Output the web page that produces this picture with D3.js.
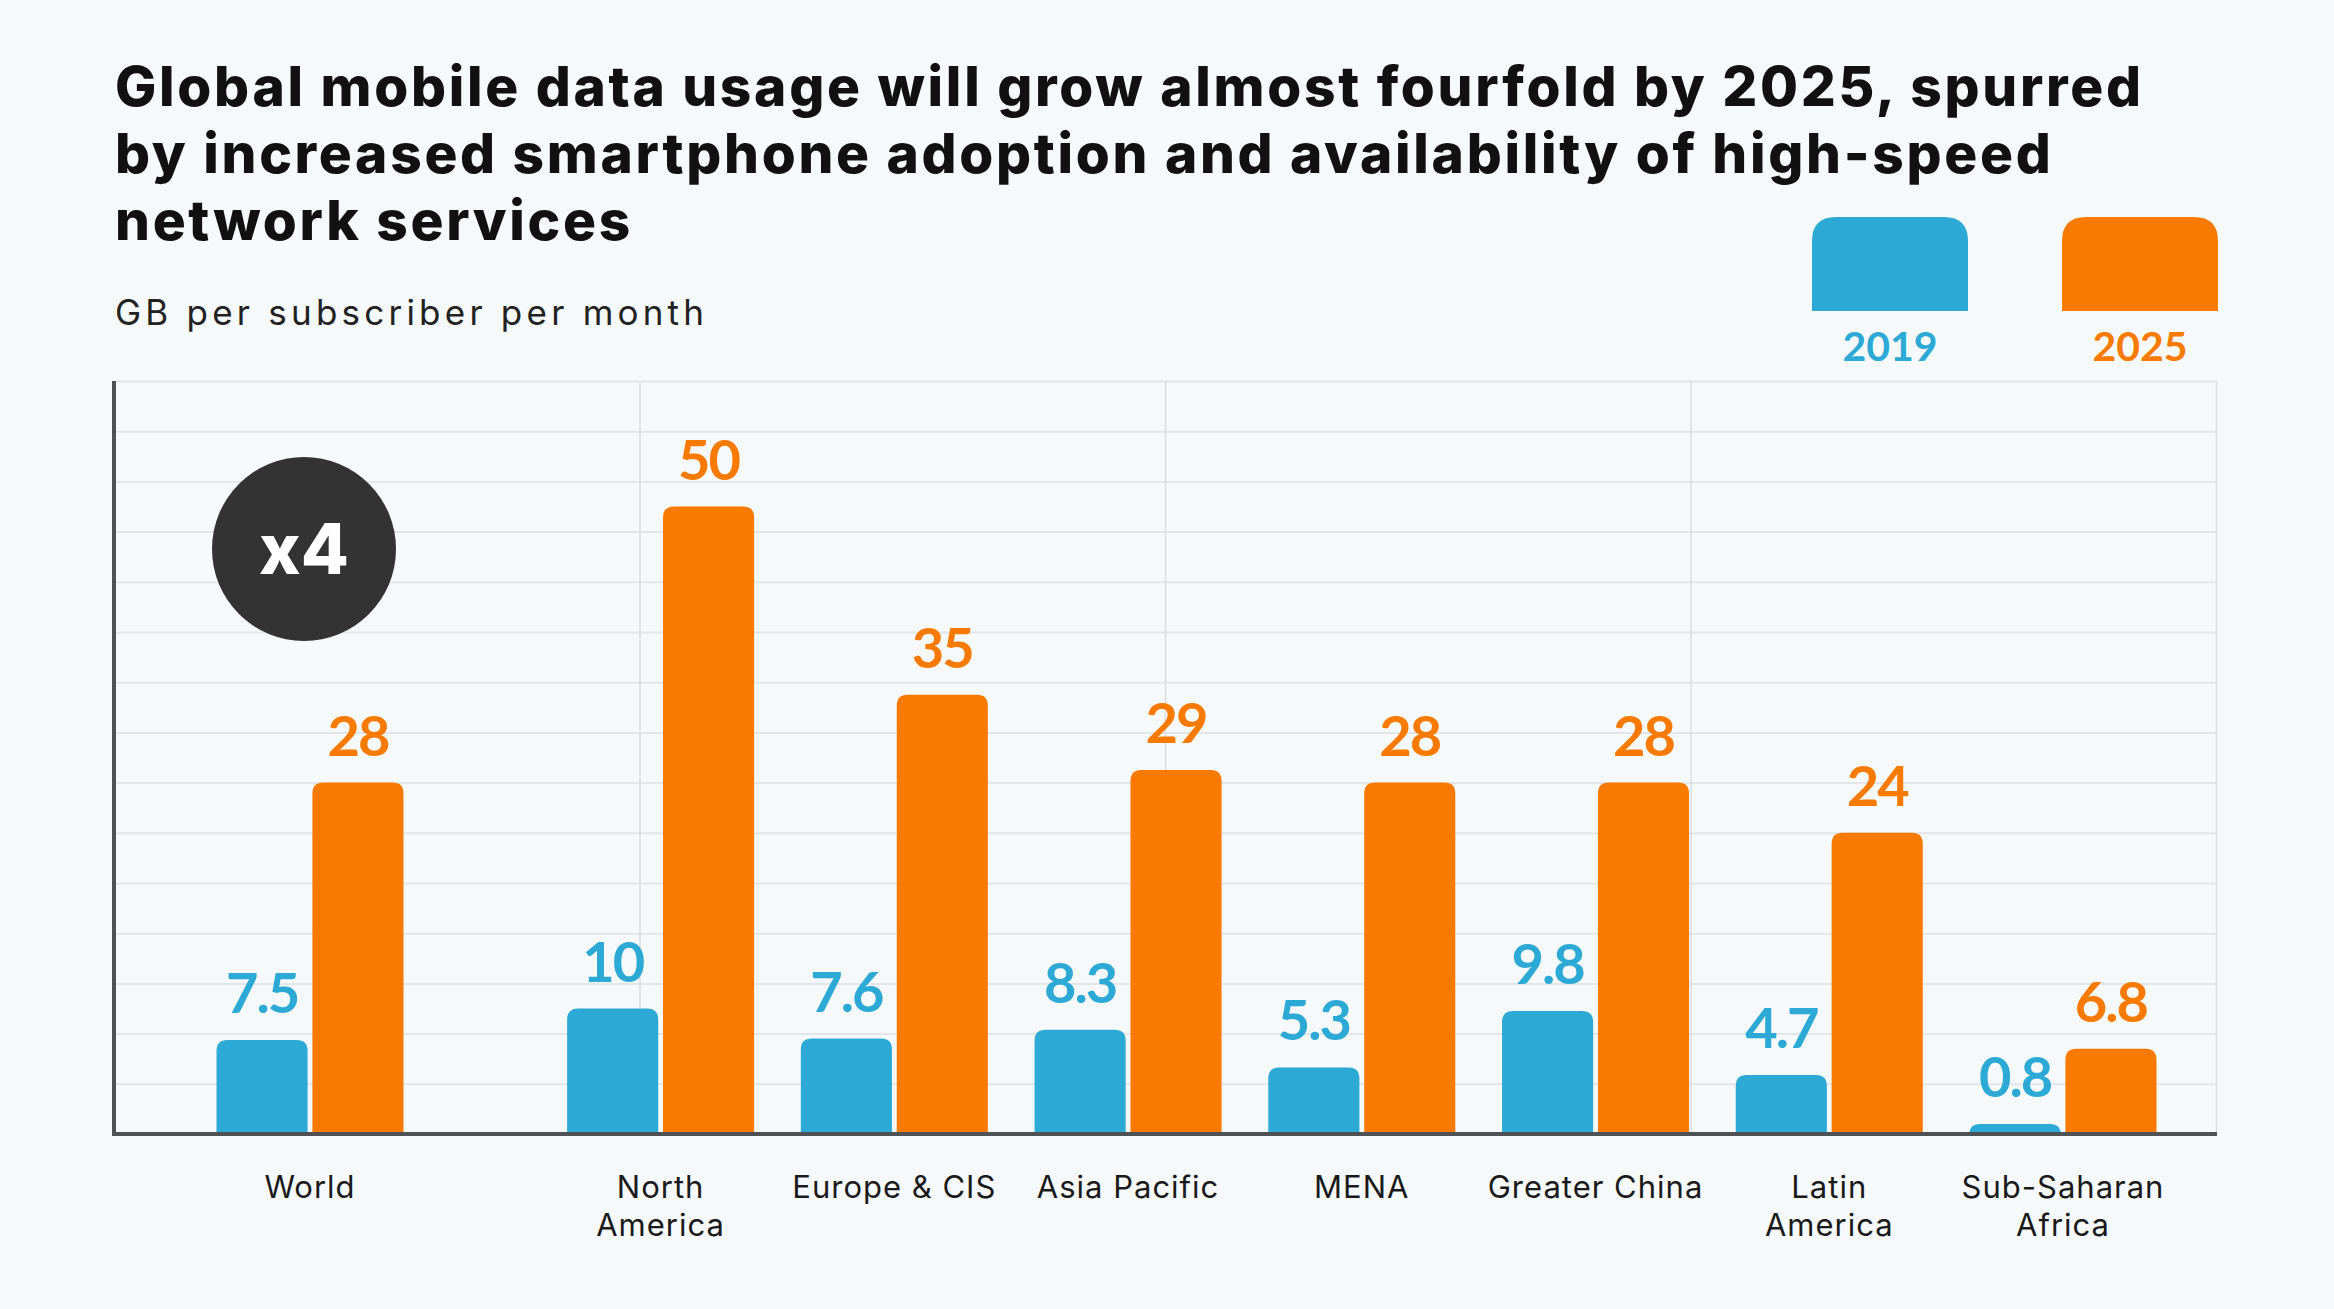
<!DOCTYPE html>
<html>
<head>
<meta charset="utf-8">
<script src="https://cdn.jsdelivr.net/npm/d3@7"></script>
<style>
  html, body { margin: 0; padding: 0; background: #f5f9fa; }
  svg { display: block; font-family: Inter, Lato, "Open Sans", sans-serif; }
</style>
</head>
<body>
<svg width="2334" height="1309"></svg>
<script>
const svg = d3.select("svg");
const width = +svg.attr("width");
const height = +svg.attr("height");

// data
const regions = ["World", "North America", "Europe & CIS", "Asia Pacific", "MENA", "Greater China", "Latin America", "Sub-Saharan Africa"];
const regionLines = [["World"], ["North", "America"], ["Europe & CIS"], ["Asia Pacific"], ["MENA"], ["Greater China"], ["Latin", "America"], ["Sub-Saharan", "Africa"]];
const years = ["2019", "2025"];
const values2019 = [7.5, 10, 7.6, 8.3, 5.3, 9.8, 4.7, 0.8];
const values2025 = [28, 50, 35, 29, 28, 28, 24, 6.8];
const labels2019 = ["7.5", "10", "7.6", "8.3", "5.3", "9.8", "4.7", "0.8"];
const labels2025 = ["28", "50", "35", "29", "28", "28", "24", "6.8"];
const gridValues = d3.range(0, 61, 4);

const titleLines = [
  "Global mobile data usage will grow almost fourfold by 2025, spurred",
  "by increased smartphone adoption and availability of high-speed",
  "network services"
];
const subtitle = "GB per subscriber per month";

const colors = { "2019": "#2ca9d5", "2025": "#f87a00" };

const plot = { left: 114, right: 2216, top: 381, bottom: 1134 };

const y = d3.scaleLinear().domain([0, 60]).range([plot.bottom, plot.top]);

// World sits apart from the regions, half a slot further
const slot = i => i + (i > 0 ? 0.5 : 0);
const x = d3.scaleLinear().domain([0, 7.5]).range([310, 2063]);
const x1 = d3.scaleBand().domain(years).range([-93.5, 93.5]).paddingInner(0.05);
const xGrid = d3.scaleLinear().domain([0, 4]).range([plot.left, plot.right]);

// spread letters so a line reaches the wanted width
function fitSpacing(sel, target) {
  const node = sel.node();
  const len = node.getComputedTextLength();
  const n = node.textContent.length;
  return (target - len) / (n - 1);
}

// title
const title = svg.append("g").selectAll("text")
  .data(titleLines)
  .enter()
  .append("text")
  .attr("x", 115)
  .attr("y", (d, i) => 106 + i * 67)
  .attr("font-size", 55)
  .attr("font-weight", 800)
  .attr("fill", "#111")
  .text(d => d);
const tSp = fitSpacing(title.filter((d, i) => i === 0), 2026);
title.attr("letter-spacing", tSp);

const sub = svg.append("text")
  .attr("x", 115)
  .attr("y", 325)
  .attr("font-size", 35)
  .attr("fill", "#222")
  .text(subtitle);
sub.attr("letter-spacing", fitSpacing(sub, 589));

// legend
const legX = d3.scaleBand().domain(years).range([1812, 2218]).paddingInner(0.376);
function topRounded(x0, y0, w, h, r) {
  r = Math.min(r, h, w / 2);
  return `M${x0},${y0 + h}V${y0 + r}Q${x0},${y0} ${x0 + r},${y0}H${x0 + w - r}Q${x0 + w},${y0} ${x0 + w},${y0 + r}V${y0 + h}Z`;
}
const leg = svg.append("g");
leg.selectAll("path")
  .data(years)
  .enter()
  .append("path")
  .attr("d", d => topRounded(legX(d), 217, legX.bandwidth(), 94, 24))
  .attr("fill", d => colors[d]);
leg.selectAll("text")
  .data(years)
  .enter()
  .append("text")
  .attr("x", d => legX(d) + legX.bandwidth() / 2)
  .attr("y", 361)
  .attr("text-anchor", "middle")
  .attr("font-size", 41)
  .attr("font-weight", 700)
  .attr("font-family", "Lato, sans-serif")
  .attr("fill", d => colors[d])
  .text(d => d);

// grid
const gy = svg.append("g")
  .attr("transform", `translate(${plot.left},0)`)
  .call(d3.axisLeft(y).tickValues(gridValues).tickSize(-(plot.right - plot.left)).tickFormat(""));
gy.select(".domain").remove();
gy.selectAll("line").attr("stroke", "#e2e6e9").attr("stroke-width", 2);

const gx = svg.append("g")
  .attr("transform", `translate(0,${plot.top})`)
  .call(d3.axisBottom(xGrid).tickValues([1, 2, 3, 4]).tickSize(plot.bottom - plot.top).tickFormat(""));
gx.select(".domain").remove();
gx.selectAll("line").attr("stroke", "#d9dde0").attr("stroke-width", 1.5);

// bars
const rows = regions.map((r, i) => ({
  region: r,
  i: i,
  bars: [
    { year: "2019", value: values2019[i], label: labels2019[i] },
    { year: "2025", value: values2025[i], label: labels2025[i] }
  ]
}));

const groups = svg.append("g").selectAll("g")
  .data(rows)
  .enter()
  .append("g")
  .attr("transform", d => `translate(${x(slot(d.i))},0)`);

groups.selectAll("path")
  .data(d => d.bars)
  .enter()
  .append("path")
  .attr("d", d => topRounded(x1(d.year), y(d.value), x1.bandwidth(), y(0) - y(d.value), 11))
  .attr("fill", d => colors[d.year]);

groups.selectAll("text.val")
  .data(d => d.bars)
  .enter()
  .append("text")
  .attr("class", "val")
  .attr("x", d => x1(d.year) + x1.bandwidth() / 2)
  .attr("y", d => y(d.value) - 27)
  .attr("text-anchor", "middle")
  .attr("font-size", 56)
  .attr("font-weight", 700)
  .attr("font-family", "Lato, sans-serif")
  .attr("letter-spacing", -2)
  .attr("fill", d => colors[d.year])
  .text(d => d.label);

// axis lines
svg.append("line")
  .attr("x1", plot.left).attr("x2", plot.left)
  .attr("y1", plot.top).attr("y2", plot.bottom + 2)
  .attr("stroke", "#4f5254").attr("stroke-width", 4);
svg.append("line")
  .attr("x1", plot.left - 2).attr("x2", plot.right + 1)
  .attr("y1", plot.bottom).attr("y2", plot.bottom)
  .attr("stroke", "#4f5254").attr("stroke-width", 4);

// category labels
const cat = svg.append("g").selectAll("text")
  .data(regionLines)
  .enter()
  .append("text")
  .attr("x", (d, i) => x(slot(i)))
  .attr("y", 1198)
  .attr("text-anchor", "middle")
  .attr("font-size", 31)
  .attr("fill", "#1a1a1a")
  .attr("letter-spacing", 1);
cat.selectAll("tspan")
  .data(d => d)
  .enter()
  .append("tspan")
  .attr("x", function () { return d3.select(this.parentNode).attr("x"); })
  .attr("dy", (d, i) => i === 0 ? 0 : 38)
  .text(d => d);

// x4 badge
svg.append("circle")
  .attr("cx", 304).attr("cy", 549).attr("r", 92)
  .attr("fill", "#333333");
svg.append("text")
  .attr("x", 304).attr("y", 574)
  .attr("text-anchor", "middle")
  .attr("font-size", 70)
  .attr("font-weight", 800)
  .attr("fill", "#ffffff")
  .text("x4");
</script>
</body>
</html>
